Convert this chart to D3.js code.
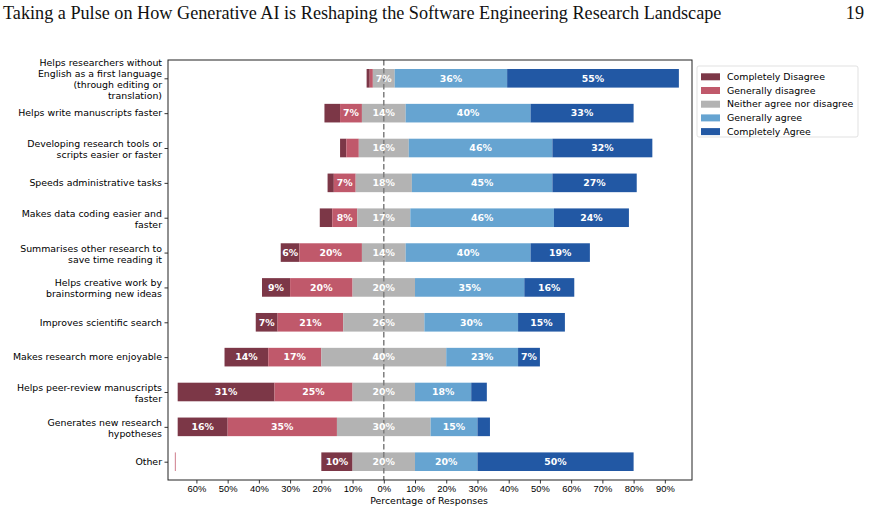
<!DOCTYPE html>
<html>
<head>
<meta charset="utf-8">
<script src="https://cdn.jsdelivr.net/npm/d3@7"></script>
<style>
  body { margin: 0; background: #fff; }
  svg { display: block; }
</style>
</head>
<body>
<div id="chart"></div>
<script>
// page size
const width = 870;
const height = 512;
const margin = { top: 60, right: 178, bottom: 32, left: 168 };

// questions, top to bottom
const categories = [
  "Helps researchers without\nEnglish as a first language\n(through editing or\ntranslation)",
  "Helps write manuscripts faster",
  "Developing research tools or\nscripts easier or faster",
  "Speeds administrative tasks",
  "Makes data coding easier and\nfaster",
  "Summarises other research to\nsave time reading it",
  "Helps creative work by\nbrainstorming new ideas",
  "Improves scientific search",
  "Makes research more enjoyable",
  "Helps peer-review manuscripts\nfaster",
  "Generates new research\nhypotheses",
  "Other",
];

// answer shares in %, one array per answer
const completelyDisagree = [1, 5, 2, 2, 4, 6, 9, 7, 14, 31, 16, 10];
const generallyDisagree = [1, 7, 4, 7, 8, 20, 20, 21, 17, 25, 35, 0];
const neutral = [7, 14, 16, 18, 17, 14, 20, 26, 40, 20, 30, 20];
const generallyAgree = [36, 40, 46, 45, 46, 40, 35, 30, 23, 18, 15, 20];
const completelyAgree = [55, 33, 32, 27, 24, 19, 16, 15, 7, 5, 4, 50];

const seriesNames = [
  "Completely Disagree",
  "Generally disagree",
  "Neither agree nor disagree",
  "Generally agree",
  "Completely Agree",
];
const seriesColors = ["#7c3747", "#c0596b", "#b3b3b3", "#66a4d1", "#2258a4"];

// x ticks (the axis shows absolute values)
const xTicks = [-60, -50, -40, -30, -20, -10, 0, 10, 20, 30, 40, 50, 60, 70, 80, 90];

// a stray sliver drawn at the far left of the "Other" row in the original
const strayRow = "Other";
const strayStart = -66.9;
const strayWidth = 0.25;

const fontSize = "9.4px";

// build the stacked segments: neutral is split around zero
const series = [completelyDisagree, generallyDisagree, neutral, generallyAgree, completelyAgree];
const segments = [];
categories.forEach((cat, i) => {
  const vals = series.map((s) => s[i]);
  let start = -(vals[0] + vals[1] + vals[2] / 2);
  vals.forEach((v, k) => {
    segments.push({ cat, k, x0: start, x1: start + v, value: v });
    start += v;
  });
});

const svg = d3
  .select("#chart")
  .append("svg")
  .attr("width", width)
  .attr("height", height)
  .style("font-family", "'DejaVu Sans', sans-serif");

// page header
svg
  .append("text")
  .attr("x", 3)
  .attr("y", 19)
  .style("font-family", "'Liberation Serif', serif")
  .style("font-size", "18.2px")
  .attr("fill", "#111")
  .text("Taking a Pulse on How Generative AI is Reshaping the Software Engineering Research Landscape");

svg
  .append("text")
  .attr("x", 864)
  .attr("y", 19)
  .attr("text-anchor", "end")
  .style("font-family", "'Liberation Serif', serif")
  .style("font-size", "18.2px")
  .attr("fill", "#111")
  .text("19");

const x = d3
  .scaleLinear()
  .domain([-69.1, 98.7])
  .range([margin.left, width - margin.right]);

const y = d3
  .scalePoint()
  .domain(categories)
  .range([margin.top, height - margin.bottom])
  .padding(0.525);

const barH = 18.6;

// bars
svg
  .append("g")
  .selectAll("rect")
  .data(segments.filter((d) => d.value > 0))
  .enter()
  .append("rect")
  .attr("x", (d) => x(d.x0))
  .attr("y", (d) => y(d.cat) - barH / 2)
  .attr("width", (d) => x(d.x1) - x(d.x0))
  .attr("height", barH)
  .attr("fill", (d) => seriesColors[d.k]);

svg
  .append("rect")
  .attr("x", x(strayStart))
  .attr("y", y(strayRow) - barH / 2)
  .attr("width", x(strayStart + strayWidth) - x(strayStart))
  .attr("height", barH)
  .attr("fill", seriesColors[1]);

// zero line
svg
  .append("line")
  .attr("x1", x(0))
  .attr("x2", x(0))
  .attr("y1", margin.top)
  .attr("y2", height - margin.bottom)
  .attr("stroke", "#7f7f7f")
  .attr("stroke-width", 1.5)
  .attr("stroke-dasharray", "5.5,2.5");

// segment labels
svg
  .append("g")
  .selectAll("text")
  .data(segments.filter((d) => d.value >= 6))
  .enter()
  .append("text")
  .attr("x", (d) => x((d.x0 + d.x1) / 2))
  .attr("y", (d) => y(d.cat))
  .attr("dy", "0.35em")
  .attr("text-anchor", "middle")
  .attr("fill", "#fff")
  .style("font-size", fontSize)
  .style("font-weight", "bold")
  .text((d) => d.value + "%");

// axes
const xAxis = svg
  .append("g")
  .attr("transform", `translate(0,${height - margin.bottom})`)
  .call(
    d3
      .axisBottom(x)
      .tickValues(xTicks)
      .tickSize(3.5)
      .tickPadding(2)
      .tickFormat((d) => Math.abs(d) + "%")
  );
xAxis.select(".domain").remove();
xAxis.selectAll("text").style("font-size", fontSize).attr("fill", "#000");
xAxis.selectAll("line").attr("stroke", "#000").attr("stroke-width", 0.8);

const yAxis = svg
  .append("g")
  .attr("transform", `translate(${margin.left},0)`)
  .call(d3.axisLeft(y).tickSize(3.5).tickFormat(""));
yAxis.select(".domain").remove();
yAxis.selectAll("line").attr("stroke", "#000").attr("stroke-width", 0.8);

// multi-line category labels
const lineH = 11;
svg
  .append("g")
  .selectAll("text")
  .data(categories)
  .enter()
  .append("text")
  .attr("text-anchor", "end")
  .attr("fill", "#000")
  .style("font-size", fontSize)
  .each(function (d) {
    const lines = d.split("\n");
    const t = d3.select(this);
    const shift = lines.length > 1 ? 1.2 : 0;
    lines.forEach((ln, j) => {
      t.append("tspan")
        .attr("x", margin.left - 6)
        .attr("y", y(d) + shift + (j - (lines.length - 1) / 2) * lineH)
        .attr("dy", "0.35em")
        .text(ln);
    });
  });

// frame
svg
  .append("rect")
  .attr("x", margin.left)
  .attr("y", margin.top)
  .attr("width", width - margin.right - margin.left)
  .attr("height", height - margin.bottom - margin.top)
  .attr("fill", "none")
  .attr("stroke", "#222")
  .attr("stroke-width", 1);

// x axis title
svg
  .append("text")
  .attr("x", x(14.5))
  .attr("y", height - 8)
  .attr("text-anchor", "middle")
  .style("font-size", fontSize)
  .attr("fill", "#000")
  .text("Percentage of Responses");

// legend
const legend = svg.append("g").attr("transform", "translate(697,66)");
legend
  .append("rect")
  .attr("width", 161)
  .attr("height", 71)
  .attr("rx", 2)
  .attr("fill", "#fff")
  .attr("stroke", "#d9d9d9")
  .attr("stroke-width", 0.8);

const items = legend
  .selectAll(".legend")
  .data(seriesNames)
  .enter()
  .append("g")
  .attr("class", "legend")
  .attr("transform", (d, i) => `translate(4, ${7.3 + i * 13.7})`);

items
  .append("rect")
  .attr("width", 19)
  .attr("height", 7)
  .attr("fill", (d, i) => seriesColors[i]);

items
  .append("text")
  .attr("x", 26)
  .attr("y", 3.5)
  .attr("dy", "0.35em")
  .style("font-size", fontSize)
  .attr("fill", "#000")
  .text((d) => d);
</script>
</body>
</html>
